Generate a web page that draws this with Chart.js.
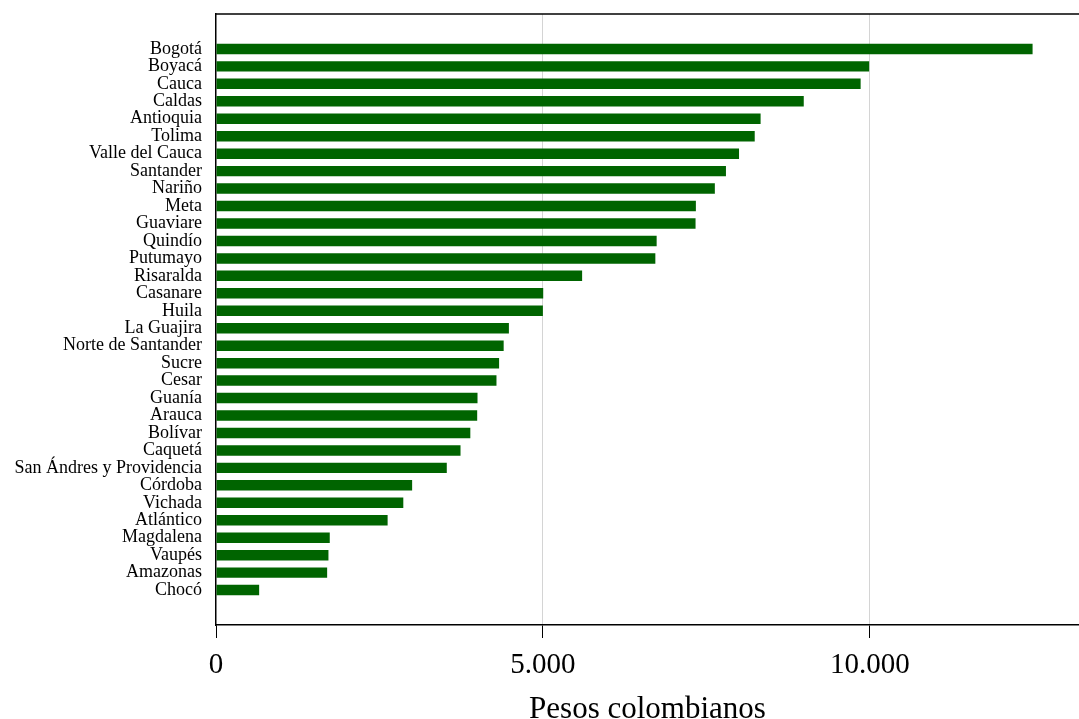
<!DOCTYPE html>
<html>
<head>
<meta charset="utf-8">
<script src="https://cdn.jsdelivr.net/npm/chart.js@4"></script>
<style>
  html, body { margin: 0; padding: 0; background: #fff; }
  #wrap { width: 1079px; height: 719px; }
</style>
</head>
<body>
<div id="wrap"><canvas id="chart" width="1079" height="719"></canvas></div>
<script>
// departments, top to bottom
const departamentos = ['Bogotá', 'Boyacá', 'Cauca', 'Caldas', 'Antioquia', 'Tolima', 'Valle del Cauca',
  'Santander', 'Nariño', 'Meta', 'Guaviare', 'Quindío', 'Putumayo', 'Risaralda', 'Casanare', 'Huila',
  'La Guajira', 'Norte de Santander', 'Sucre', 'Cesar', 'Guanía', 'Arauca', 'Bolívar', 'Caquetá',
  'San Ándres y Providencia', 'Córdoba', 'Vichada', 'Atlántico', 'Magdalena', 'Vaupés', 'Amazonas', 'Chocó'];

const pesos = [12490, 9990, 9860, 8990, 8330, 8240, 8000,
  7800, 7630, 7340, 7335, 6740, 6720, 5600, 5005, 5000,
  4480, 4400, 4330, 4290, 4000, 3995, 3890, 3740,
  3530, 3000, 2865, 2625, 1740, 1720, 1700, 660];

const xTicks = [0, 5000, 10000];

const serif = '"Liberation Serif", "Times New Roman", serif';

// frame line on top of the plot area
const topLine = {
  id: 'topLine',
  afterDraw(chart) {
    const { ctx, chartArea } = chart;
    ctx.save();
    ctx.strokeStyle = '#000';
    ctx.lineWidth = 1.5;
    ctx.beginPath();
    ctx.moveTo(chartArea.left, chartArea.top);
    ctx.lineTo(chartArea.right, chartArea.top);
    ctx.stroke();
    ctx.restore();
  }
};

const fmt = (v) => String(v).replace(/\B(?=(\d{3})+(?!\d))/g, '.');

const ctx = document.getElementById('chart').getContext('2d');
new Chart(ctx, {
  type: 'bar',
  data: {
    datasets: [{
      data: departamentos.map((d, i) => ({ x: pesos[i], y: i })),
      backgroundColor: '#006400',
      barPercentage: 0.6,
      categoryPercentage: 1
    }]
  },
  options: {
    indexAxis: 'y',
    responsive: false,
    animation: false,
    layout: { padding: { top: 14, right: 0, left: 0, bottom: 0 } },
    plugins: { legend: { display: false }, tooltip: { enabled: false } },
    scales: {
      x: {
        type: 'linear',
        min: 0,
        max: 13200,
        afterBuildTicks: (scale) => { scale.ticks = xTicks.map(v => ({ value: v })); },
        afterFit: (scale) => { scale.height = 94; scale.paddingLeft = 0; scale.paddingRight = 0; },
        grid: {
          color: (c) => c.tick && c.tick.value === 0 ? 'rgba(0,0,0,0)' : '#d4d4d4',
          lineWidth: 1,
          drawTicks: true,
          tickLength: 13,
          tickColor: '#000',
          tickWidth: 1
        },
        border: { color: '#000', width: 1.5 },
        ticks: {
          color: '#000',
          padding: 10,
          maxRotation: 0,
          font: { family: serif, size: 29 },
          callback: (v) => fmt(v)
        },
        title: {
          display: true,
          text: 'Pesos colombianos',
          color: '#000',
          font: { family: serif, size: 31, lineHeight: 0.6 },
          padding: { top: 0, bottom: 0 }
        }
      },
      y: {
        type: 'linear',
        reverse: true,
        offset: false,
        min: -2,
        max: 33,
        afterBuildTicks: (scale) => { scale.ticks = departamentos.map((d, i) => ({ value: i })); },
        afterFit: (scale) => { scale.width = 216; scale.paddingTop = 0; scale.paddingBottom = 0; },
        grid: { display: false, drawTicks: false },
        border: { color: '#000', width: 1.5 },
        ticks: {
          autoSkip: false,
          color: '#000',
          padding: 14,
          font: { family: serif, size: 18 },
          callback: (v) => departamentos[v] || ''
        }
      }
    }
  },
  plugins: [topLine]
});
</script>
</body>
</html>
